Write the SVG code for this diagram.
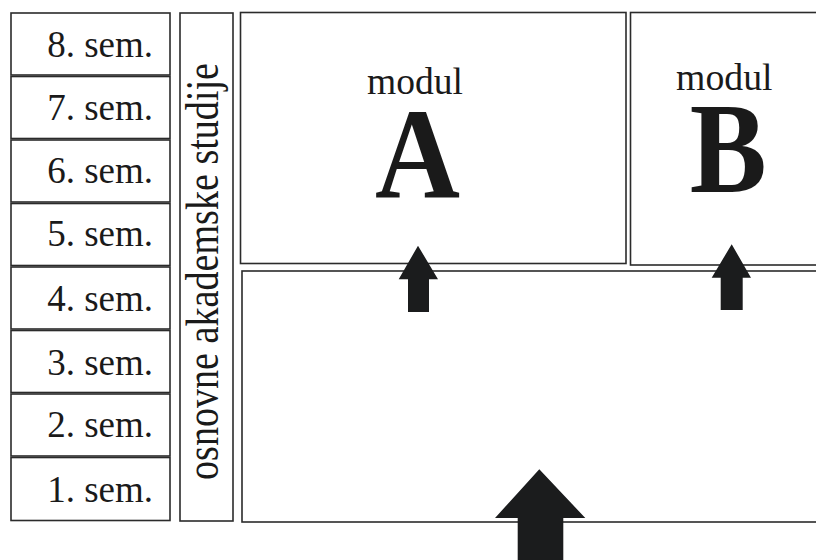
<svg xmlns="http://www.w3.org/2000/svg" width="816" height="560" viewBox="0 0 816 560">
<style>
.box{fill:#fff;stroke:#2b2b2b;stroke-width:1.6}
.sem{font-family:"Liberation Serif","Times New Roman",serif;font-size:37px;fill:#1a1a1a;text-anchor:end}
.lbl{font-family:"Liberation Serif","Times New Roman",serif;fill:#1a1a1a;text-anchor:middle}
.big{font-weight:bold}
.arrow{fill:#1b1c1d}
</style>
<rect width="816" height="560" fill="#fff"/>
<g id="sem8"><rect class="box" x="11" y="13" width="159" height="62"/><text class="sem" x="153" y="57">8. sem.</text></g>
<g id="sem7"><rect class="box" x="11" y="76.5" width="159" height="62"/><text class="sem" x="153" y="120">7. sem.</text></g>
<g id="sem6"><rect class="box" x="11" y="140" width="159" height="62"/><text class="sem" x="153" y="183">6. sem.</text></g>
<g id="sem5"><rect class="box" x="11" y="203.5" width="159" height="62"/><text class="sem" x="153" y="246">5. sem.</text></g>
<g id="sem4"><rect class="box" x="11" y="267" width="159" height="62"/><text class="sem" x="153" y="311">4. sem.</text></g>
<g id="sem3"><rect class="box" x="11" y="330.5" width="159" height="62"/><text class="sem" x="153" y="375">3. sem.</text></g>
<g id="sem2"><rect class="box" x="11" y="394" width="159" height="62"/><text class="sem" x="153" y="437">2. sem.</text></g>
<g id="sem1"><rect class="box" x="11" y="457.5" width="159" height="63"/><text class="sem" x="153" y="502">1. sem.</text></g>
<g id="osnovne"><rect class="box" x="180" y="13" width="53" height="508"/><text class="lbl" transform="translate(217.5,271.5) rotate(-90)" x="0" y="0" font-size="46" textLength="417" lengthAdjust="spacingAndGlyphs">osnovne akademske studije</text></g>
<g id="modulA"><rect class="box" x="240.5" y="12.5" width="385.5" height="251"/><text class="lbl" x="415" y="94" font-size="38" textLength="96" lengthAdjust="spacingAndGlyphs">modul</text><text class="lbl big" x="417.5" y="197" font-size="130" textLength="85" lengthAdjust="spacingAndGlyphs">A</text></g>
<g id="modulB"><rect class="box" x="630.5" y="12.5" width="200" height="252.5"/><text class="lbl" x="724.3" y="90" font-size="38" textLength="96.5" lengthAdjust="spacingAndGlyphs">modul</text><text class="lbl big" x="728.3" y="192.3" font-size="129" textLength="77" lengthAdjust="spacingAndGlyphs">B</text></g>
<g id="osnova"><rect class="box" x="242" y="271" width="590" height="251"/></g>
<g id="connectors">
<polygon class="arrow" points="418,245.7 438,279.3 429,279.3 429,312 408,312 408,279.3 398.7,279.3"/>
<polygon class="arrow" points="731.7,244.3 751,277.7 742.7,277.7 742.7,310 720.7,310 720.7,277.7 711.7,277.7"/>
<polygon class="arrow" points="539.3,469.3 585.3,518 563.3,518 563.3,562 517.7,562 517.7,518 495,518"/>
</g>
</svg>
